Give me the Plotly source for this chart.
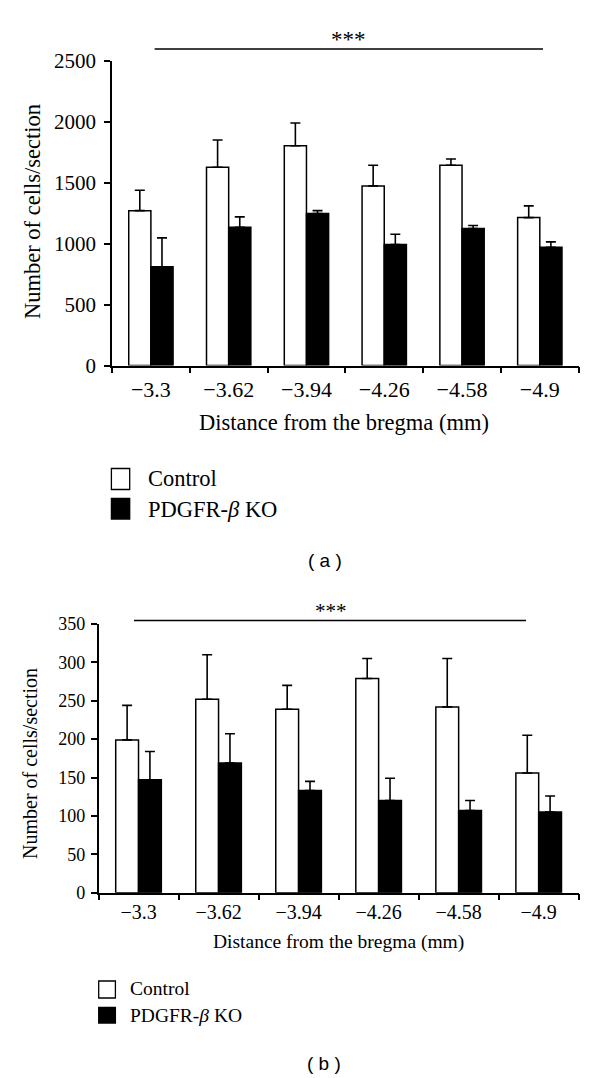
import plotly.graph_objects as go

W, H = 600, 1078

categories = ["−3.3", "−3.62", "−3.94", "−4.26", "−4.58", "−4.9"]

# Panel (a)
a_control = [1270, 1626, 1803, 1473, 1643, 1213]
a_control_err = [168, 224, 186, 170, 51, 96]
a_ko = [809, 1134, 1246, 992, 1123, 970]
a_ko_err = [238, 85, 24, 85, 25, 44]
a_yticks = [0, 500, 1000, 1500, 2000, 2500]

# Panel (b)
b_control = [199, 252, 239, 279, 242, 156]
b_control_err = [45, 58, 31, 26, 63, 49]
b_ko = [147, 169, 133, 120, 107, 105]
b_ko_err = [37, 38, 12, 29, 13, 21]
b_yticks = [0, 50, 100, 150, 200, 250, 300, 350]

legend_names = ["Control", "PDGFR-<i>β</i> KO"]
x_title = "Distance from the bregma (mm)"
y_title = "Number of cells/section"
panel_labels = ["( a )", "( b )"]
sig_text = "***"

SERIF = "Liberation Serif"
SANS = "Liberation Sans"


def px(x):
    return x / W


def py(y):
    return 1 - y / H


fig = go.Figure()


def add_panel(ctrl, ctrl_err, ko, ko_err, xa, ya):
    fig.add_trace(go.Bar(
        x=categories, y=ctrl, name=legend_names[0], xaxis=xa, yaxis=ya,
        marker=dict(color="white", line=dict(color="black", width=1.5)),
        error_y=dict(type="data", array=ctrl_err, arrayminus=[0] * len(ctrl),
                     symmetric=False, color="black", thickness=1.6, width=5),
        showlegend=False,
    ))
    fig.add_trace(go.Bar(
        x=categories, y=ko, name=legend_names[1], xaxis=xa, yaxis=ya,
        marker=dict(color="black", line=dict(color="black", width=1.5)),
        error_y=dict(type="data", array=ko_err, arrayminus=[0] * len(ko),
                     symmetric=False, color="black", thickness=1.6, width=5),
        showlegend=False,
    ))


add_panel(a_control, a_control_err, a_ko, a_ko_err, "x", "y")
add_panel(b_control, b_control_err, b_ko, b_ko_err, "x2", "y2")

axis_common = dict(showline=True, linecolor="black", linewidth=1.5,
                   ticks="outside", ticklen=6, tickwidth=1.5, tickcolor="black",
                   showgrid=False, zeroline=False, automargin=False)

fig.update_layout(
    width=W, height=H,
    margin=dict(l=0, r=0, t=0, b=0, autoexpand=False),
    paper_bgcolor="white", plot_bgcolor="white",
    barmode="group", bargap=0.43, bargroupgap=0,
    font=dict(family=SERIF, color="black"),
    xaxis=dict(domain=[px(112), px(578.7)], anchor="y", tickson="boundaries",
               ticklabelstandoff=3,
               tickfont=dict(family=SERIF, size=22, color="black"), **axis_common),
    yaxis=dict(domain=[py(365.5), py(60.7)], anchor="x", range=[0, 2500],
               tickvals=a_yticks, ticklabelstandoff=4,
               tickfont=dict(family=SERIF, size=21, color="black"),
               **axis_common),
    xaxis2=dict(domain=[px(98.5), px(578.7)], anchor="y2", tickson="boundaries",
                ticklabelstandoff=1,
                tickfont=dict(family=SERIF, size=20, color="black"), **axis_common),
    yaxis2=dict(domain=[py(892.7), py(624)], anchor="x2", range=[0, 350],
                tickvals=b_yticks, ticklabelstandoff=2,
                tickfont=dict(family=SERIF, size=18, color="black"),
                **axis_common),
)

shapes = []
annotations = []

# significance lines
shapes.append(dict(type="line", xref="paper", yref="paper",
                   x0=px(154.6), x1=px(543), y0=py(49), y1=py(49),
                   line=dict(color="black", width=1.5)))
shapes.append(dict(type="line", xref="paper", yref="paper",
                   x0=px(134), x1=px(526), y0=py(620.5), y1=py(620.5),
                   line=dict(color="black", width=1.3)))
annotations.append(dict(text=sig_text, xref="paper", yref="paper", x=px(348.4), y=py(39),
                        showarrow=False, xanchor="center", yanchor="middle",
                        font=dict(family=SERIF, size=23)))
annotations.append(dict(text=sig_text, xref="paper", yref="paper", x=px(330.6), y=py(611),
                        showarrow=False, xanchor="center", yanchor="middle",
                        font=dict(family=SERIF, size=21)))

# axis titles
annotations.append(dict(text=y_title, xref="paper", yref="paper", x=px(33), y=py(212),
                        textangle=-90, showarrow=False, xanchor="center", yanchor="middle",
                        font=dict(family=SERIF, size=22.5)))
annotations.append(dict(text=y_title, xref="paper", yref="paper", x=px(30), y=py(764),
                        textangle=-90, showarrow=False, xanchor="center", yanchor="middle",
                        font=dict(family=SERIF, size=20)))
annotations.append(dict(text=x_title, xref="paper", yref="paper", x=px(344.4), y=py(422),
                        showarrow=False, xanchor="center", yanchor="middle",
                        font=dict(family=SERIF, size=22.5)))
annotations.append(dict(text=x_title, xref="paper", yref="paper", x=px(338.7), y=py(942),
                        showarrow=False, xanchor="center", yanchor="middle",
                        font=dict(family=SERIF, size=19.5)))


# legends
def legend(x0, x1, boxes, text_x, text_ys, size):
    fills = ["white", "black"]
    for (y0, y1), fill, name, ty in zip(boxes, fills, legend_names, text_ys):
        shapes.append(dict(type="rect", xref="paper", yref="paper",
                           x0=px(x0), x1=px(x1), y0=py(y1), y1=py(y0),
                           fillcolor=fill, line=dict(color="black", width=1.3)))
        annotations.append(dict(text=name, xref="paper", yref="paper", x=px(text_x), y=py(ty),
                                showarrow=False, xanchor="left", yanchor="middle",
                                font=dict(family=SERIF, size=size)))


legend(111.4, 129.7, [(468.5, 489.5), (498.5, 519)], 146.4, [478, 509], 22.5)
legend(98.7, 115.4, [(981, 998), (1007.5, 1023)], 128, [988, 1015], 19.5)

# panel labels
annotations.append(dict(text=panel_labels[0], xref="paper", yref="paper", x=px(325), y=py(560),
                        showarrow=False, xanchor="center", yanchor="middle",
                        font=dict(family=SANS, size=19)))
annotations.append(dict(text=panel_labels[1], xref="paper", yref="paper", x=px(323.7), y=py(1063),
                        showarrow=False, xanchor="center", yanchor="middle",
                        font=dict(family=SANS, size=19)))

fig.update_layout(shapes=shapes, annotations=annotations)

# remove the browser's default 8px body margin so the figure fills the window
fig.write_html("out.html", config={"displayModeBar": False},
               post_script="document.body.style.margin='0';")
